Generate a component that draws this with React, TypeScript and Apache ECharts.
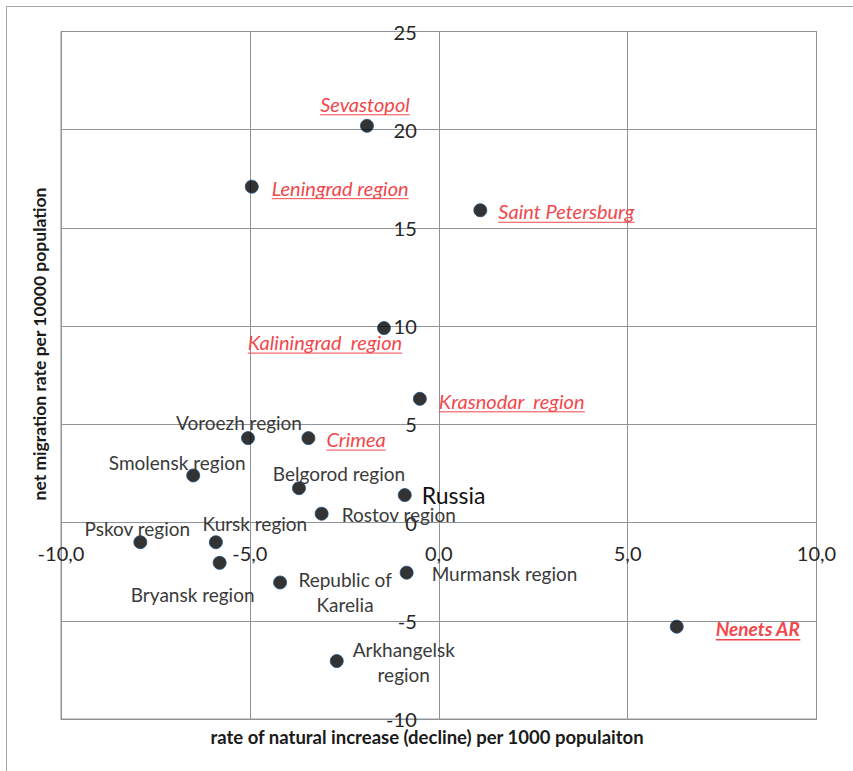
import React, { useEffect, useRef } from "react";
import * as echarts from "echarts";

const regions = [
  "Sevastopol",
  "Leningrad region",
  "Saint Petersburg",
  "Kaliningrad  region",
  "Krasnodar  region",
  "Voroezh region",
  "Crimea",
  "Smolensk region",
  "Belgorod region",
  "Russia",
  "Rostov region",
  "Pskov region",
  "Kursk region",
  "Bryansk region",
  "Republic of\nKarelia",
  "Murmansk region",
  "Arkhangelsk\nregion",
  "Nenets AR",
];
const naturalIncrease = [-1.9, -4.95, 1.1, -1.45, -0.5, -5.05, -3.45, -6.5, -3.7, -0.9, -3.1, -7.9, -5.9, -5.8, -4.2, -0.85, -2.7, 6.3];
const netMigration = [20.2, 17.1, 15.9, 9.9, 6.3, 4.3, 4.3, 2.4, 1.75, 1.4, 0.45, -1.0, -1.0, -2.05, -3.05, -2.55, -7.05, -5.3];
// label kind: 0 normal, 1 red italic underline, 2 red bold italic underline, 3 large black
const labelKind = [1, 1, 1, 1, 1, 0, 1, 0, 0, 3, 0, 0, 0, 0, 0, 0, 0, 2];

const xTicks = [-10, -5, 0, 5, 10];
const yTicks = [-10, -5, 0, 5, 10, 15, 20, 25];

const xAxisTitle = "rate of natural increase (decline) per 1000 populaiton";
const yAxisTitle = "net migration rate per 10000 population";

// label offsets relative to each dot (layout, not data): [dx, dy, align]
const labelLayout: [number, number, string][] = [
  [-2, -22, "center"],
  [20, 1, "left"],
  [18, 1, "left"],
  [-59, 14, "center"],
  [19, 2, "left"],
  [-9, -16, "center"],
  [18, 1, "left"],
  [-16, -13, "center"],
  [40, -15, "center"],
  [17, 0, "left"],
  [20, 1, "left"],
  [-3, -14, "center"],
  [39, -19, "center"],
  [-27, 32, "center"],
  [65, 10, "center"],
  [25, 1, "left"],
  [67, 1, "center"],
  [39, 2, "left"],
];

const FONT = "Lato, 'Open Sans', sans-serif";
const RED = "#f2474c";
const GRID = "#8f9296";

// plot layout
const G_LEFT = 61;
const G_TOP = 31.5;
const G_RIGHT = 36.5;
const G_BOTTOM = 52;
const W = 853;
const H = 771;
const plotW = W - G_LEFT - G_RIGHT;
const plotH = H - G_TOP - G_BOTTOM;
// pixel distance from the edge axis to the zero line (labels sit next to the zero lines)
const zeroFromLeft = (plotW * (0 - xTicks[0])) / (xTicks[xTicks.length - 1] - xTicks[0]);
const zeroFromBottom = (plotH * (0 - yTicks[0])) / (yTicks[yTicks.length - 1] - yTicks[0]);

function fontFor(kind: number): string {
  if (kind === 1) return `italic 20px ${FONT}`;
  if (kind === 2) return `italic bold 19px ${FONT}`;
  if (kind === 3) return `23px ${FONT}`;
  return `19px ${FONT}`;
}

let measureCtx: CanvasRenderingContext2D | null = null;
function textWidth(text: string, font: string): number {
  if (!measureCtx) measureCtx = document.createElement("canvas").getContext("2d");
  if (!measureCtx) return text.length * 8;
  measureCtx.font = font;
  return measureCtx.measureText(text).width;
}

export default function App() {
  const ref = useRef<HTMLDivElement>(null);
  useEffect(() => {
    if (!ref.current) return;
    const chart = echarts.init(ref.current, undefined, { renderer: "svg" });
    const points = regions.map((n, i) => [naturalIncrease[i], netMigration[i], i]);
    chart.setOption({
      animation: false,
      backgroundColor: "#ffffff",
      grid: {
        left: G_LEFT,
        top: G_TOP,
        right: G_RIGHT,
        bottom: G_BOTTOM,
        show: true,
        borderColor: GRID,
        borderWidth: 1,
        containLabel: false,
      },
      xAxis: {
        type: "value",
        min: xTicks[0],
        max: xTicks[xTicks.length - 1],
        interval: 5,
        axisLine: { show: true, onZero: false, lineStyle: { color: GRID, width: 1 } },
        axisTick: { show: false },
        splitLine: { show: true, lineStyle: { color: GRID, width: 1 } },
        axisLabel: {
          margin: -(zeroFromBottom - 20),
          color: "#262626",
          fontFamily: FONT,
          fontSize: 20,
          hideOverlap: false,
          formatter: (v: number) => v.toFixed(1).replace(".", ","),
        },
      },
      yAxis: {
        type: "value",
        min: yTicks[0],
        max: yTicks[yTicks.length - 1],
        interval: 5,
        axisLine: { show: true, onZero: false, lineStyle: { color: GRID, width: 1 } },
        axisTick: { show: false },
        splitLine: { show: true, lineStyle: { color: GRID, width: 1 } },
        axisLabel: {
          margin: -(zeroFromLeft - 22),
          color: "#262626",
          fontFamily: FONT,
          fontSize: 20,
          align: "right",
          hideOverlap: false,
        },
      },
      graphic: [
        {
          type: "line",
          shape: { x1: 6.5, y1: 6.5, x2: 853, y2: 6.5 },
          style: { stroke: "#a6a6a6", lineWidth: 1 },
        },
        {
          type: "line",
          shape: { x1: 6.5, y1: 6.5, x2: 6.5, y2: 771 },
          style: { stroke: "#a6a6a6", lineWidth: 1 },
        },
        {
          type: "text",
          x: 427,
          y: 737,
          style: {
            text: xAxisTitle,
            font: `bold 18.5px ${FONT}`,
            fill: "#1a1a1a",
            align: "center",
            verticalAlign: "middle",
          },
        },
        {
          type: "text",
          x: 39,
          y: 344,
          rotation: Math.PI / 2,
          style: {
            text: yAxisTitle,
            font: `bold 17.5px ${FONT}`,
            fill: "#1a1a1a",
            align: "center",
            verticalAlign: "middle",
          },
        },
      ],
      series: [
        {
          type: "scatter",
          data: points,
          symbol: "circle",
          symbolSize: 13,
          itemStyle: { color: "#000000", borderColor: "#1f4e79", borderWidth: 1 },
          z: 3,
        },
        {
          type: "custom",
          data: points,
          z: 4,
          renderItem: (params: any, api: any) => {
            const i = params.dataIndex;
            const c = api.coord([api.value(0), api.value(1)]);
            const [dx, dy, align] = labelLayout[i];
            const kind = labelKind[i];
            const font = fontFor(kind);
            const text = regions[i];
            const lines = text.split("\n");
            const lh = 25;
            const x = c[0] + dx;
            const y = c[1] + dy;
            const fill = kind === 1 || kind === 2 ? RED : kind === 3 ? "#111111" : "#3a3a3a";
            const children: any[] = [
              {
                type: "text",
                x,
                y,
                style: {
                  text,
                  font,
                  fill,
                  align,
                  verticalAlign: "middle",
                  lineHeight: lh,
                },
              },
            ];
            if (kind === 1 || kind === 2) {
              const w = textWidth(lines[0], font);
              const x0 = align === "center" ? x - w / 2 : x;
              children.push({
                type: "line",
                shape: { x1: x0, y1: y + 11, x2: x0 + w, y2: y + 11 },
                style: { stroke: RED, lineWidth: kind === 2 ? 1.5 : 1 },
              });
            }
            return { type: "group", children };
          },
        },
      ],
    });
    return () => chart.dispose();
  }, []);
  return (
    <div
      ref={ref}
      style={{ position: "fixed", left: 0, top: 0, width: W, height: H, background: "#fff" }}
    />
  );
}
